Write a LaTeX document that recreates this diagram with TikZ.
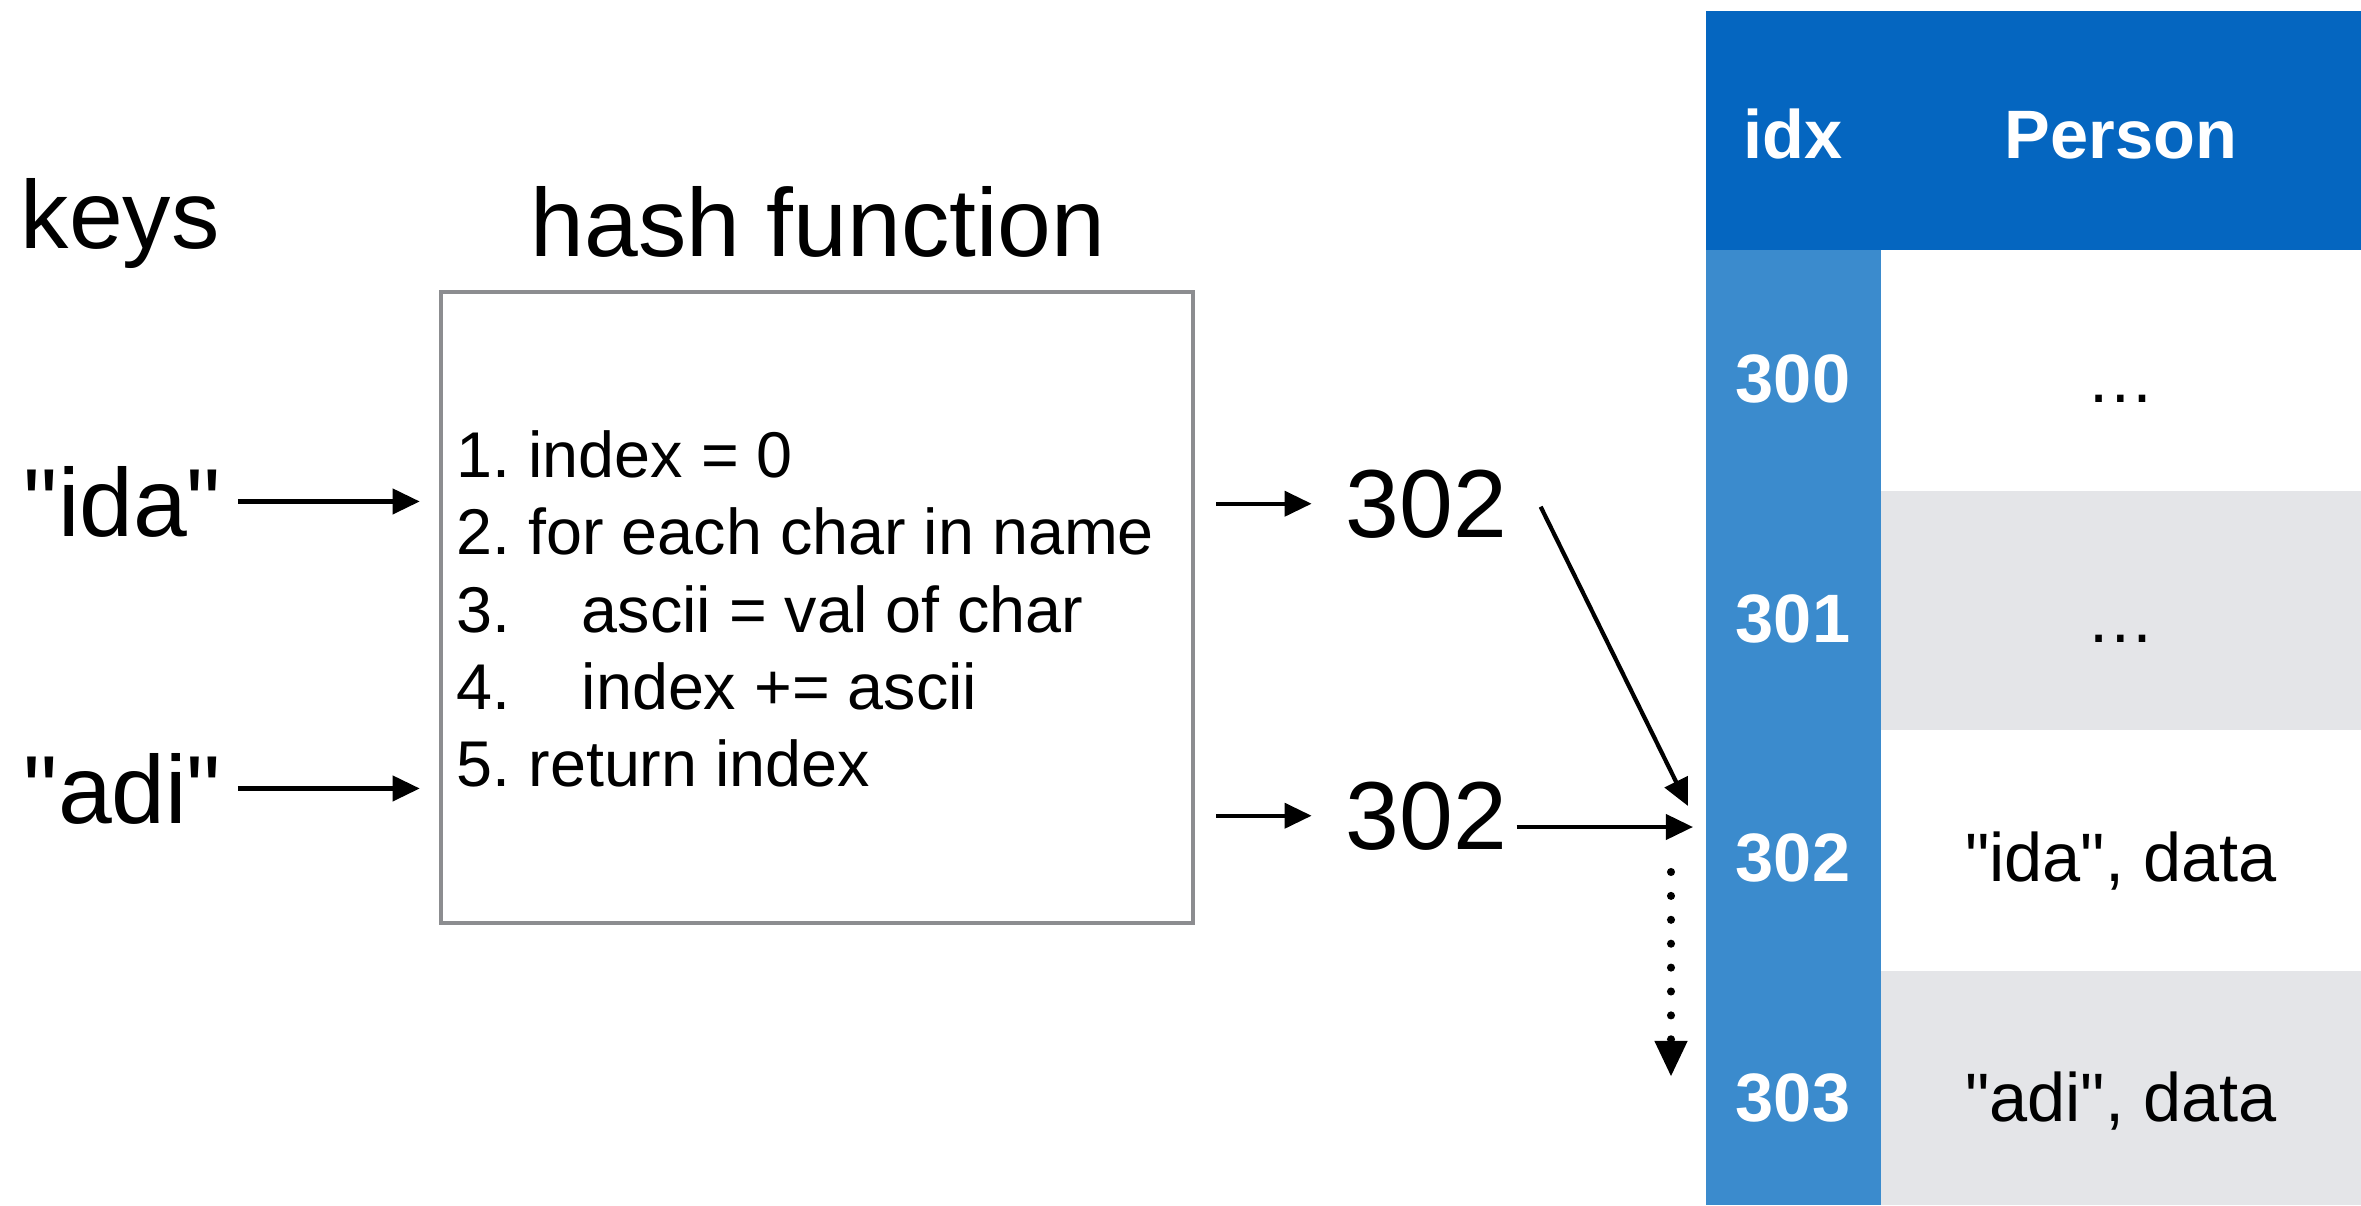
\documentclass[tikz,border=0pt]{standalone}
\usepackage{fontspec}
\setmainfont{Liberation Sans}
\newfontfamily\lsans{Liberation Sans}
\usetikzlibrary{arrows.meta}
\definecolor{hdrblue}{HTML}{0566C0}
\definecolor{idxblue}{HTML}{3B8BCD}
\definecolor{rowgray}{HTML}{E4E5E8}
\definecolor{boxgray}{HTML}{8C8D90}
\frenchspacing
\begin{document}
\begin{tikzpicture}[x=0.1mm,y=-0.1mm,
  big/.style={font=\lsans\fontsize{27.5}{33}\selectfont, inner sep=0pt, anchor=base},
  code/.style={font=\lsans\fontsize{18.4}{22}\selectfont, inner sep=0pt, anchor=base west},
  cell/.style={font=\lsans\fontsize{19.5}{23}\selectfont, inner sep=0pt, anchor=base},
  hd/.style={font=\lsans\fontsize{19.5}{23}\selectfont\bfseries, inner sep=0pt, anchor=base, text=white},
  arr/.style={line width=1.2pt, -{Triangle[length=7.7pt,width=7.1pt]}},
  dotarr/.style={line width=2.3pt, line cap=round, dash pattern=on 0pt off 6.8pt,
    -{Triangle[length=10pt,width=9.5pt,line width=0pt]}}
]
\useasboundingbox (0,0) rectangle (2361,1205);
\fill[white] (0,0) rectangle (2361,1205);

% table
\fill[hdrblue] (1706,11) rectangle (2361,250);
\fill[idxblue] (1706,250) rectangle (1881,1205);
\fill[rowgray] (1881,491) rectangle (2361,730);
\fill[rowgray] (1881,971) rectangle (2361,1205);

\node[hd] (hidx) at (1793,158) {idx};
\node[hd] (hperson) at (2121,158) {Person};
\node[hd] (r300) at (1793,402) {300};
\node[hd] (r301) at (1793,642) {301};
\node[hd] (r302) at (1793,881) {302};
\node[hd] (r303) at (1793,1121) {303};
\node[cell] (c300) at (2121,402) {…};
\node[cell] (c301) at (2121,642) {…};
\node[cell] (c302) at (2121,881) {"ida", data};
\node[cell] (c303) at (2121,1121) {"adi", data};

% labels
\node[big, anchor=base west] (keys) at (20,248) {keys};
\node[big] (hashlbl) at (818,256) {hash function};
\node[big, anchor=base west] (ida) at (23,536) {"ida"};
\node[big, anchor=base west] (adi) at (23,823) {"adi"};

% hash box
\node[draw=boxgray, line width=1.1pt, minimum width=75.2mm, minimum height=63.1mm, inner sep=0pt] (hashbox) at (817,607.5) {};
\node[code] (l1) at (456,477) {1. index = 0};
\node[code] (l2) at (456,554) {2. for each char in name};
\node[code] (l3) at (456,632) {\makebox[35.6pt][l]{3.}ascii = val of char};
\node[code] (l4) at (456,709) {\makebox[35.6pt][l]{4.}index += ascii};
\node[code] (l5) at (456,786) {5. return index};

% hash results
\node[big, anchor=base west] (h1) at (1345,537) {302};
\node[big, anchor=base west] (h2) at (1345,849) {302};

% connectors
\draw[arr, shorten <=4.5pt, shorten >=5.5pt] (ida.east) -- (ida.east -| hashbox.west);
\draw[arr, shorten <=4.5pt, shorten >=5.5pt] (adi.east) -- (adi.east -| hashbox.west);
\draw[arr, shorten <=6pt, shorten >=9.5pt] (h1.west -| hashbox.east) -- (h1.west);
\draw[arr, shorten <=6pt, shorten >=9.5pt] (h2.west -| hashbox.east) -- (h2.west);

\coordinate (tipA) at (1688,806);
\coordinate (tipB) at (1693,827);
\coordinate (dtop) at (1671,872);
\coordinate (dbot) at (1671,1076);
\draw[arr] ([xshift=3.3mm,yshift=-0.3mm]h1.east) -- (tipA);
\draw[arr] ([xshift=0.9mm]h2.east |- tipB) -- (tipB);
\draw[dotarr] (dtop) -- (dbot);
\end{tikzpicture}
\end{document}
